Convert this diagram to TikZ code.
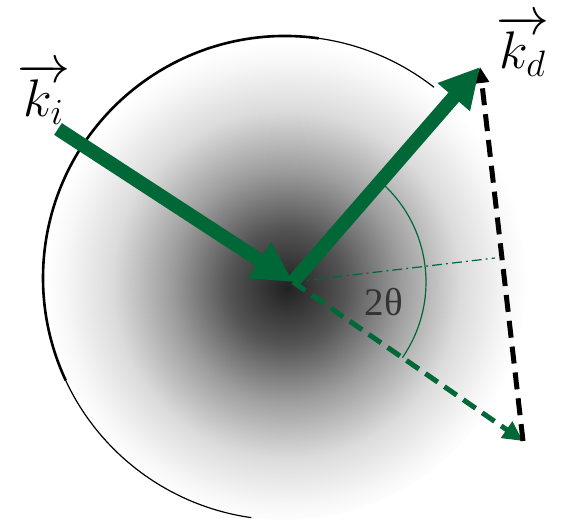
\documentclass[tikz,border=0pt]{standalone}
\usepackage{fontspec}
\usetikzlibrary{arrows.meta}
\newfontfamily\serifgr{Liberation Serif}
\definecolor{kgreen}{RGB}{0,104,55}
\pgfdeclareradialshading{spot}{\pgfpoint{0.2bp}{-1bp}}{color(0bp)=(black!87); color(6bp)=(black!67); color(12bp)=(black!38); color(18bp)=(black!14); color(23bp)=(black!3); color(25bp)=(white); color(50bp)=(white)}
\begin{document}
\begin{tikzpicture}[x=1pt,y=1pt,
  bigvec/.style={kgreen, line width=14pt, -{Triangle[length=40pt,width=40pt]}},
  gdash/.style={kgreen, line width=5pt, dash pattern=on 15pt off 8pt, -{Triangle[length=20pt,width=19pt]}},
  bdash/.style={black, line width=5pt, dash pattern=on 17pt off 9pt, -{Triangle[length=16pt,width=14pt]}},
  thin/.style={kgreen, line width=1.2pt},
  veclabel/.style={font=\fontsize{20}{24}\selectfont, scale=2.55, inner sep=0pt}]
\useasboundingbox (0,0) rectangle (561,527);
\coordinate (C) at (285,249);
\coordinate (O) at (293,245);
\coordinate (ti) at (58,398);
\coordinate (td) at (480,460);
\coordinate (te) at (523,86);
\coordinate (tb) at (495,269);
% sphere
\shade[shading=spot] (C) circle[radius=242pt];
\draw[line width=1.2pt] (C) ++(52:242pt) arc[start angle=52,end angle=262,radius=242pt];
\draw[line width=2.6pt] (C) ++(82:242pt) arc[start angle=82,end angle=205,radius=242pt];
% bisector and angle arc
\draw[thin, dash pattern=on 10pt off 4pt on 2pt off 4pt] (O) -- (tb);
\draw[thin] (O) ++(-34.66:133pt) arc[start angle=-34.66,end angle=48.99,radius=133pt];
\node[text=black!80, font=\serifgr\fontsize{39}{44}\selectfont, inner sep=0pt] (th) at (384,225) {2θ};
% vectors
\draw[gdash] (O) -- (te);
\draw[bdash] (te) -- (td);
\draw[bigvec] (ti) -- (O);
\draw[bigvec] (O) -- (td);
% labels
\node[veclabel] (lki) at (44,433) {$\overrightarrow{k_i}$};
\node[veclabel] (lkd) at (523,481) {$\overrightarrow{k_d}$};
\end{tikzpicture}
\end{document}
